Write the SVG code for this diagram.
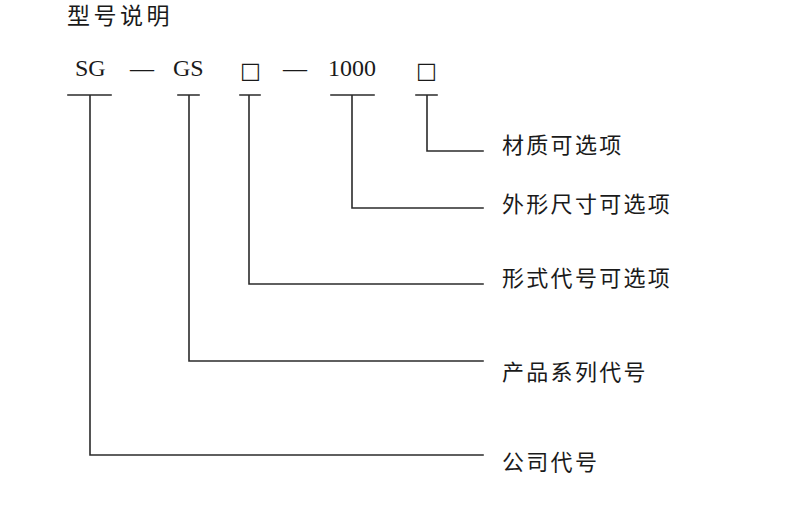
<svg xmlns="http://www.w3.org/2000/svg" width="800" height="511" viewBox="0 0 800 511">
<style>
.ln{stroke:#2b2b2b;stroke-width:1.6;fill:none;stroke-linecap:square}
.code{font-family:"Liberation Serif","Times New Roman",serif;font-size:24px;fill:#1a1a1a}
.sq{font-family:"DejaVu Sans","Noto Sans CJK SC",sans-serif;font-size:22px;fill:#1a1a1a}
.lbl{font-family:"Noto Sans CJK SC","Noto Sans",sans-serif;font-size:22px;fill:#1a1a1a;letter-spacing:2.3px;dominant-baseline:central}
.title{font-family:"Noto Sans CJK SC","Noto Sans",sans-serif;font-size:23px;fill:#1a1a1a;letter-spacing:3.5px}
</style>
<rect width="800" height="511" fill="#ffffff"/>
<g id="title"><text class="title" x="67" y="24">型号说明</text></g>
<g id="code">
<text class="code" x="75" y="76">SG</text>
<text class="code" x="130" y="76">—</text>
<text class="code" x="173" y="76">GS</text>
<text class="sq" x="240" y="78">□</text>
<text class="code" x="283" y="76">—</text>
<text class="code" x="328" y="76">1000</text>
<text class="sq" x="416" y="78">□</text>
</g>
<g id="connectors">
<path class="ln" d="M68,95 H111 M90,95 V455 H483"/>
<path class="ln" d="M178,95 H199 M189,95 V361 H483"/>
<path class="ln" d="M240,95 H260 M249,95 V284 H483"/>
<path class="ln" d="M331,95 H374 M352,95 V208 H483"/>
<path class="ln" d="M416,95 H437 M427,95 V151 H483"/>
</g>
<g id="n-material"><text class="lbl" x="502" y="143">材质可选项</text></g>
<g id="n-size"><text class="lbl" x="502" y="202">外形尺寸可选项</text></g>
<g id="n-form"><text class="lbl" x="502" y="276">形式代号可选项</text></g>
<g id="n-series"><text class="lbl" x="502" y="370">产品系列代号</text></g>
<g id="n-company"><text class="lbl" x="502" y="460">公司代号</text></g>
</svg>
